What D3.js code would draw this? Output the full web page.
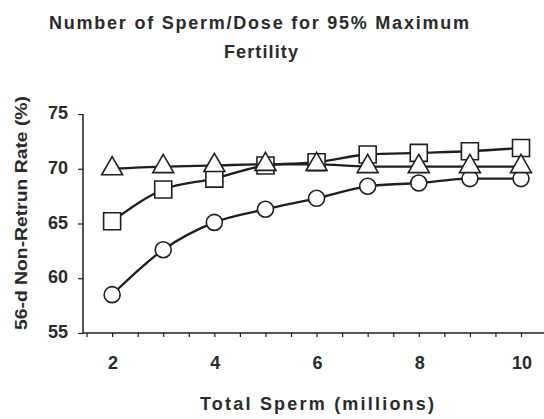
<!DOCTYPE html>
<html>
<head>
<meta charset="utf-8">
<script src="https://cdn.jsdelivr.net/npm/d3@7"></script>
<style>
  html, body { margin: 0; padding: 0; background: #fff; }
  svg { display: block; }
  text { font-family: "Liberation Sans", Arial, sans-serif; font-weight: bold; fill: #2a2a2a; }
</style>
</head>
<body>
<svg id="chart" width="544" height="419"></svg>
<script>
const titleLines = ["Number of Sperm/Dose for 95% Maximum", "Fertility"];
const xLabel = "Total Sperm (millions)";
const yLabel = "56-d Non-Retrun Rate (%)";

const sperm = [2, 3, 4, 5, 6, 7, 8, 9, 10];
const circleSeries = [58.5, 62.6, 65.1, 66.3, 67.3, 68.4, 68.7, 69.1, 69.1];
const squareSeries = [65.2, 68.1, 69.1, 70.3, 70.6, 71.3, 71.45, 71.6, 71.9];
const triangleSeries = [70.0, 70.2, 70.3, 70.4, 70.4, 70.2, 70.2, 70.2, 70.2];

const xTickLabels = [2, 4, 6, 8, 10];
const yTickLabels = [55, 60, 65, 70, 75];
const xMinorTicks = [1.5, 2, 2.5, 3, 3.5, 4, 4.5, 5, 5.5, 6, 6.5, 7, 7.5, 8, 8.5, 9, 9.5, 10];

const svg = d3.select("#chart");
const ink = "#1e1e1e";

const x = d3.scaleLinear().domain([1.43, 10.45]).range([83, 544]);
const y = d3.scaleLinear().domain([55, 75]).range([333, 114]);

// Title
svg.append("text").attr("x", 259).attr("y", 29).attr("text-anchor", "middle")
  .style("font-size", "18px").attr("textLength", 420).attr("lengthAdjust", "spacing")
  .text(titleLines[0]);
svg.append("text").attr("x", 261).attr("y", 58).attr("text-anchor", "middle")
  .style("font-size", "18px").attr("textLength", 74).attr("lengthAdjust", "spacing")
  .text(titleLines[1]);

// Axes
const xAxis = d3.axisBottom(x).tickValues(xMinorTicks).tickSize(4).tickFormat("");
const gx = svg.append("g").attr("transform", `translate(0,${y(55)})`).call(xAxis);
gx.select(".domain").remove();
gx.selectAll(".tick line").attr("stroke", ink).attr("stroke-width", 1.2);
svg.append("line").attr("x1", x.range()[0]).attr("x2", 544)
  .attr("y1", y(55)).attr("y2", y(55)).attr("stroke", ink).attr("stroke-width", 1.5);

svg.append("g").selectAll("text").data(xTickLabels).join("text")
  .attr("x", d => x(d) + 1).attr("y", 369).attr("text-anchor", "middle")
  .style("font-size", "18px").text(d => d);

const yAxis = d3.axisLeft(y).tickValues(yTickLabels).tickSize(5).tickFormat("");
const gy = svg.append("g").attr("transform", `translate(${x.range()[0]},0)`).call(yAxis);
gy.select(".domain").remove();
gy.selectAll(".tick line").attr("stroke", ink).attr("stroke-width", 1.2);
svg.append("line").attr("x1", x.range()[0]).attr("x2", x.range()[0])
  .attr("y1", y(75)).attr("y2", y(55)).attr("stroke", ink).attr("stroke-width", 1.5);

svg.append("g").selectAll("text").data(yTickLabels).join("text")
  .attr("x", 68).attr("y", d => y(d) + 5).attr("text-anchor", "end")
  .style("font-size", "18px").text(d => d);

// Axis titles
svg.append("text").attr("x", 317).attr("y", 410).attr("text-anchor", "middle")
  .style("font-size", "18px").attr("textLength", 234).attr("lengthAdjust", "spacing")
  .text(xLabel);
svg.append("text").attr("transform", "translate(27,213) rotate(-90)").attr("text-anchor", "middle")
  .style("font-size", "17px").attr("textLength", 234).attr("lengthAdjust", "spacingAndGlyphs")
  .text(yLabel);

// Series
const line = d3.line().x(d => x(d[0])).y(d => y(d[1])).curve(d3.curveMonotoneX);
const series = [
  { vals: circleSeries, shape: "circle" },
  { vals: squareSeries, shape: "square" },
  { vals: triangleSeries, shape: "triangle" }
];
const sym = {
  circle: d3.symbol().type(d3.symbolCircle).size(Math.PI * 8 * 8),
  square: d3.symbol().type(d3.symbolSquare).size(17 * 17),
  triangle: d3.symbol().type(d3.symbolTriangle).size(190)
};

series.forEach(s => {
  const pts = sperm.map((v, i) => [v, s.vals[i]]);
  svg.append("path").attr("d", line(pts)).attr("fill", "none")
    .attr("stroke", ink).attr("stroke-width", 2.3);
});
series.forEach(s => {
  const pts = sperm.map((v, i) => [v, s.vals[i]]);
  svg.append("g").selectAll("path").data(pts).join("path")
    .attr("d", sym[s.shape])
    .attr("transform", d => `translate(${x(d[0])},${y(d[1])})`)
    .attr("fill", "#fff").attr("stroke", ink).attr("stroke-width", 1.6);
});
</script>
</body>
</html>
